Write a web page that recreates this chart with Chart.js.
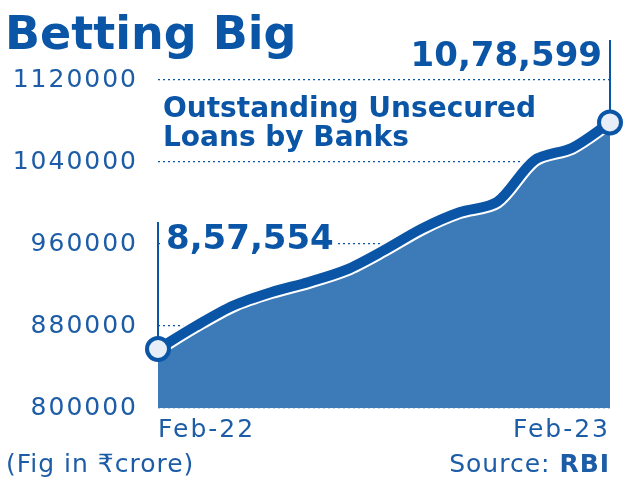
<!DOCTYPE html>
<html>
<head>
<meta charset="utf-8">
<script src="https://cdn.jsdelivr.net/npm/chart.js@4.4.1/dist/chart.umd.min.js"></script>
<style>
  html, body { margin: 0; padding: 0; background: #fff; }
  #wrap { position: relative; width: 625px; height: 477px; }
</style>
</head>
<body>
<div id="wrap"><canvas id="myChart"></canvas></div>
<script>
// monthly outstanding unsecured loans, Rs crore
const months = ["Feb-22", "Mar-22", "Apr-22", "May-22", "Jun-22", "Jul-22", "Aug-22",
  "Sep-22", "Oct-22", "Nov-22", "Dec-22", "Jan-23", "Feb-23"];
const loans = [857554, 880000, 900000, 913000, 923000, 935000, 954000,
  975000, 991000, 1001000, 1042000, 1054000, 1078599];
const yTicks = [800000, 880000, 960000, 1040000, 1120000];

const DARK = "#0a55a6";
const TEXT = "#1d5ca6";
const FILL = "#3d7ab8";
const FONT = "'DejaVu Sans', 'Noto Sans', sans-serif";

const last = loans.length - 1;
const fmtIN = (n) => n.toLocaleString("en-IN");

const spacing = {
  id: "spacing",
  beforeDraw(chart) {
    chart.ctx.letterSpacing = "2px";
  },
  beforeDatasetsDraw(chart) {
    const ctx = chart.ctx;
    ctx.letterSpacing = "0px";
    const x = chart.scales.x;
    const y = chart.scales.y;
    const x0 = x.getPixelForValue(0);
    const y0 = y.getPixelForValue(loans[0]);
    const xn = x.getPixelForValue(last);
    const yn = y.getPixelForValue(loans[last]);

    // white box under the first value label
    ctx.save();
    ctx.fillStyle = "#fff";
    ctx.fillRect(x0 + 4, 220, 176, 34);
    // leader lines
    ctx.strokeStyle = DARK;
    ctx.lineWidth = 2;
    ctx.beginPath();
    ctx.moveTo(x0, 222);
    ctx.lineTo(x0, y0 - 10);
    ctx.moveTo(xn, 40);
    ctx.lineTo(xn, yn - 10);
    ctx.stroke();
    ctx.restore();
  },
  afterDatasetsDraw(chart) {
    const ctx = chart.ctx;
    const x = chart.scales.x;
    const x0 = x.getPixelForValue(0);
    const xn = x.getPixelForValue(last);
    ctx.save();
    ctx.fillStyle = DARK;
    ctx.textBaseline = "alphabetic";

    ctx.font = "bold 46px " + FONT;
    ctx.textAlign = "left";
    ctx.fillText("Betting Big", 5, 49);

    ctx.font = "bold 28px " + FONT;
    ctx.fillText("Outstanding Unsecured", 163, 117);
    ctx.fillText("Loans by Banks", 163, 146);

    ctx.font = "bold 34px " + FONT;
    ctx.textAlign = "right";
    ctx.fillText(fmtIN(loans[last]), xn - 8, 66);
    ctx.textAlign = "left";
    ctx.fillText(fmtIN(loans[0]), x0 + 8, 249);

    ctx.fillStyle = TEXT;
    ctx.font = "25px " + FONT;
    ctx.letterSpacing = "1px";
    ctx.fillText("(Fig in \u20B9crore)", 6, 472);
    ctx.textAlign = "right";
    ctx.font = "bold 25px " + FONT;
    const rbiW = ctx.measureText("RBI").width;
    ctx.fillText("RBI", xn, 472);
    ctx.font = "25px " + FONT;
    ctx.fillText("Source: ", xn - rbiW, 472);
    ctx.restore();
  },
};

const isEnd = (c) => c.dataIndex === 0 || c.dataIndex === last;

const ctx = document.getElementById("myChart").getContext("2d");
const aChart = new Chart(ctx, {
  type: "line",
  data: {
    labels: months,
    datasets: [
      {
        // thick blue line with end circles
        data: loans,
        borderColor: DARK,
        borderWidth: 10,
        tension: 0.3,
        fill: false,
        clip: false,
        pointRadius: (c) => (isEnd(c) ? 11 : 0),
        pointBackgroundColor: "#e8eef7",
        pointBorderColor: DARK,
        pointBorderWidth: 4,
      },
      {
        // white edge between line and area
        data: loans,
        borderColor: "#fff",
        borderWidth: 14,
        tension: 0.3,
        pointRadius: 0,
        fill: false,
      },
      {
        data: loans,
        borderWidth: 0,
        backgroundColor: FILL,
        tension: 0.3,
        pointRadius: 0,
        fill: "start",
      },
    ],
  },
  options: {
    responsive: true,
    maintainAspectRatio: false,
    animation: false,
    layout: { padding: { top: 80, right: 13, left: 0, bottom: 0 } },
    plugins: { legend: { display: false }, tooltip: { enabled: false } },
    scales: {
      x: {
        offset: false,
        grid: { display: false, drawTicks: false },
        border: { display: false },
        afterFit: (s) => { s.height = 69; },
        ticks: {
          autoSkip: false,
          maxRotation: 0,
          align: "inner",
          padding: 7,
          color: TEXT,
          font: { family: FONT, size: 25 },
          callback: (v, i) => (i === 0 || i === last ? months[i] : ""),
        },
      },
      y: {
        min: 800000,
        max: 1120000,
        afterBuildTicks: (s) => { s.ticks = yTicks.map((value) => ({ value })); },
        afterFit: (s) => { s.width = 158; },
        grid: { color: DARK, lineWidth: 1.2, drawTicks: false },
        border: { display: false, dash: [2, 3] },
        ticks: {
          padding: 20,
          color: TEXT,
          font: { family: FONT, size: 25 },
          callback: (v) => String(v),
        },
      },
    },
  },
  plugins: [spacing],
});
</script>
</body>
</html>
